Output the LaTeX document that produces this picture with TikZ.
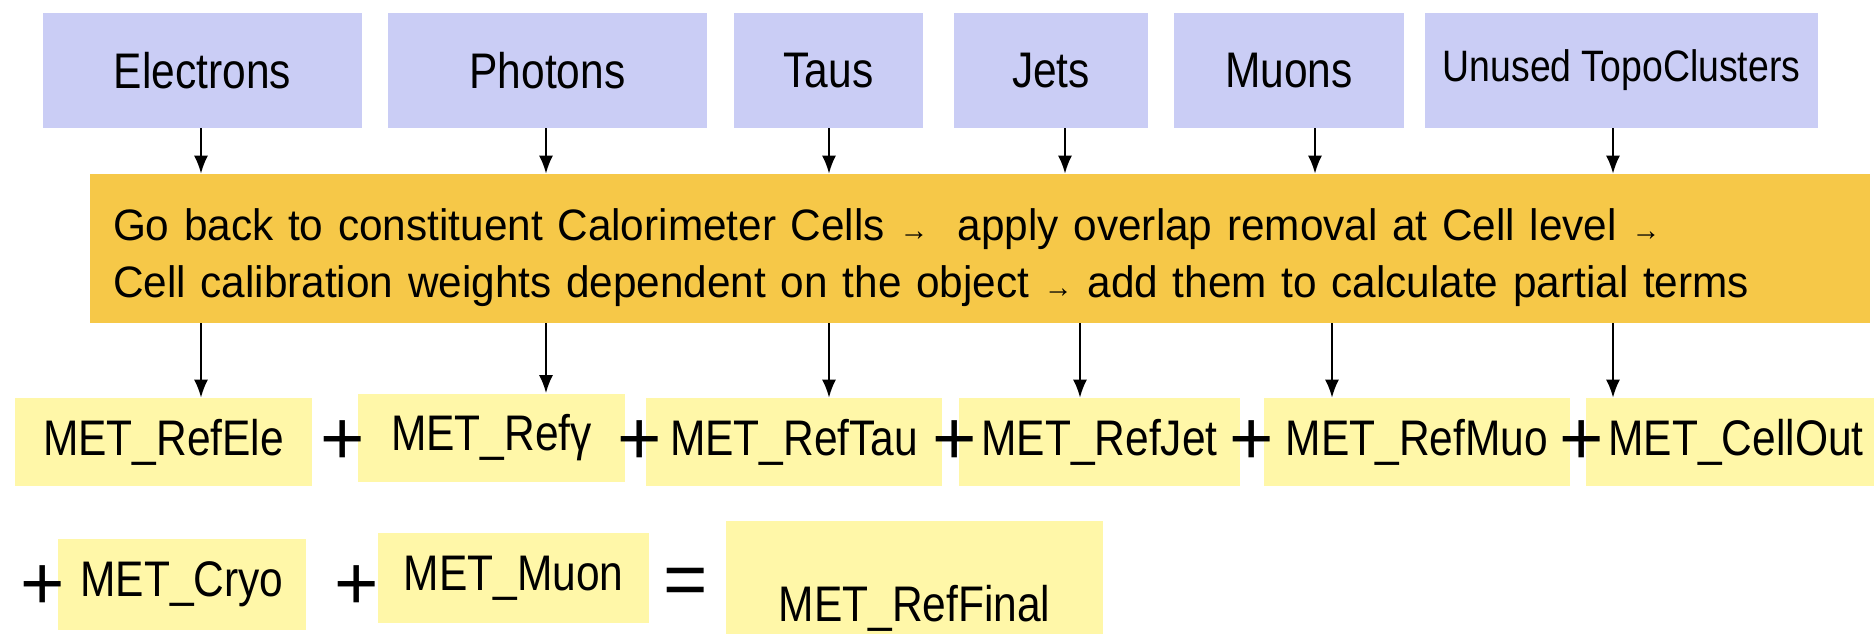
\documentclass[tikz,border=0pt]{standalone}
\usepackage{fontspec}
\setmainfont{Liberation Sans}
\newfontfamily\narrowf[FakeStretch=0.85]{Liberation Sans}
\newfontfamily\cellf[FakeStretch=0.962]{Liberation Sans}
\newfontfamily\plainf{Liberation Sans}
\usetikzlibrary{arrows.meta}
\definecolor{topblue}{RGB}{202,205,245}
\definecolor{boxorange}{RGB}{246,200,72}
\definecolor{boxyellow}{RGB}{255,247,168}
\newcommand{\smallarr}{{\fontsize{15}{15}\selectfont→}}
\tikzset{
  objbox/.style={fill=topblue, inner sep=0pt, minimum height=57.5pt, font=\narrowf\fontsize{25}{30}\selectfont},
  metbox/.style={fill=boxyellow, inner sep=0pt, minimum height=44pt, font=\narrowf\fontsize{25}{30}\selectfont},
  opsign/.style={inner sep=0pt, font=\plainf\fontsize{38}{40}\selectfont},
  arr/.style={draw=black, line width=0.9pt, -{Latex[length=9pt,width=7pt]}}
}
\begin{document}
\begin{tikzpicture}[x=0.5pt,y=-0.5pt]
\useasboundingbox (0,0) rectangle (1874,633);
\clip (0,0) rectangle (1874,633);
\fill[white] (0,0) rectangle (1874,633);
% top objects
\node[objbox, minimum width=159.5pt] (elec) at (202.5,70.5) {Electrons};
\node[objbox, minimum width=159.5pt] (phot) at (547.5,70.5) {Photons};
\node[objbox, minimum width=94.5pt] (taus) at (828.5,70.5) {Taus};
\node[objbox, minimum width=97pt] (jets) at (1051,70.5) {Jets};
\node[objbox, minimum width=115pt] (muons) at (1289,70.5) {Muons};
\node[objbox, minimum width=196.5pt, font=\narrowf\fontsize{22}{26}\selectfont] (unused) at (1621.5,70.5) {Unused TopoClusters};
% orange box and its text
\node[fill=boxorange, inner sep=0pt, minimum width=890pt, minimum height=74.5pt] (cells) at (980,248.5) {};
\node[inner xsep=11.5pt, inner ysep=0pt, text width=867pt, align=left,
      font=\cellf\fontsize{22}{28.5}\selectfont] (celltext) at (980,258)
  {Go back to constituent Calorimeter Cells \smallarr\ \ apply overlap removal at Cell level \smallarr\\
   Cell calibration weights dependent on the object \smallarr\ add them to calculate partial terms};
% MET row 1
\node[metbox, minimum width=148.5pt] (refele) at (163.5,442) {MET\_RefEle};
\node[metbox, minimum width=133.5pt] (refg) at (491.5,437.5) {MET\_Refγ};
\node[metbox, minimum width=148pt] (reftau) at (794,442) {MET\_RefTau};
\node[metbox, minimum width=140.5pt] (refjet) at (1099.5,442) {MET\_RefJet};
\node[metbox, minimum width=153pt] (refmuo) at (1417,442) {MET\_RefMuo};
\node[metbox, minimum width=150pt] (cellout) at (1736,442) {MET\_CellOut};
% MET row 2
\node[metbox, minimum width=124pt, minimum height=45.5pt] (cryo) at (182,584.5) {MET\_Cryo};
\node[metbox, minimum width=135.5pt, minimum height=45pt] (muon) at (513.5,578) {MET\_Muon};
\node[metbox, minimum width=188.5pt, minimum height=87pt] (final) at (914.5,608) {MET\_RefFinal};
% operators
\node[opsign] (p1) at (343,443) {+};
\node[opsign] (p2) at (640,443) {+};
\node[opsign] (p3) at (955,443) {+};
\node[opsign] (p4) at (1252,443) {+};
\node[opsign] (p5) at (1582,443) {+};
\node[opsign] (p6) at (43,588) {+};
\node[opsign] (p7) at (357,588) {+};
\node[opsign] (eq) at (686,587) {=};
% arrows into the orange box
\draw[arr] (elec.south -| 201,0) -- (cells.north -| 201,0);
\draw[arr] (phot.south -| 546,0) -- (cells.north -| 546,0);
\draw[arr] (taus.south -| 829,0) -- (cells.north -| 829,0);
\draw[arr] (jets.south -| 1065,0) -- (cells.north -| 1065,0);
\draw[arr] (muons.south -| 1315,0) -- (cells.north -| 1315,0);
\draw[arr] (unused.south -| 1613,0) -- (cells.north -| 1613,0);
% arrows out of the orange box
\draw[arr] (cells.south -| 201,0) -- (refele.north -| 201,0);
\draw[arr] (cells.south -| 546,0) -- (refg.north -| 546,0);
\draw[arr] (cells.south -| 829,0) -- (reftau.north -| 829,0);
\draw[arr] (cells.south -| 1080,0) -- (refjet.north -| 1080,0);
\draw[arr] (cells.south -| 1332,0) -- (refmuo.north -| 1332,0);
\draw[arr] (cells.south -| 1613,0) -- (cellout.north -| 1613,0);
\end{tikzpicture}
\end{document}
